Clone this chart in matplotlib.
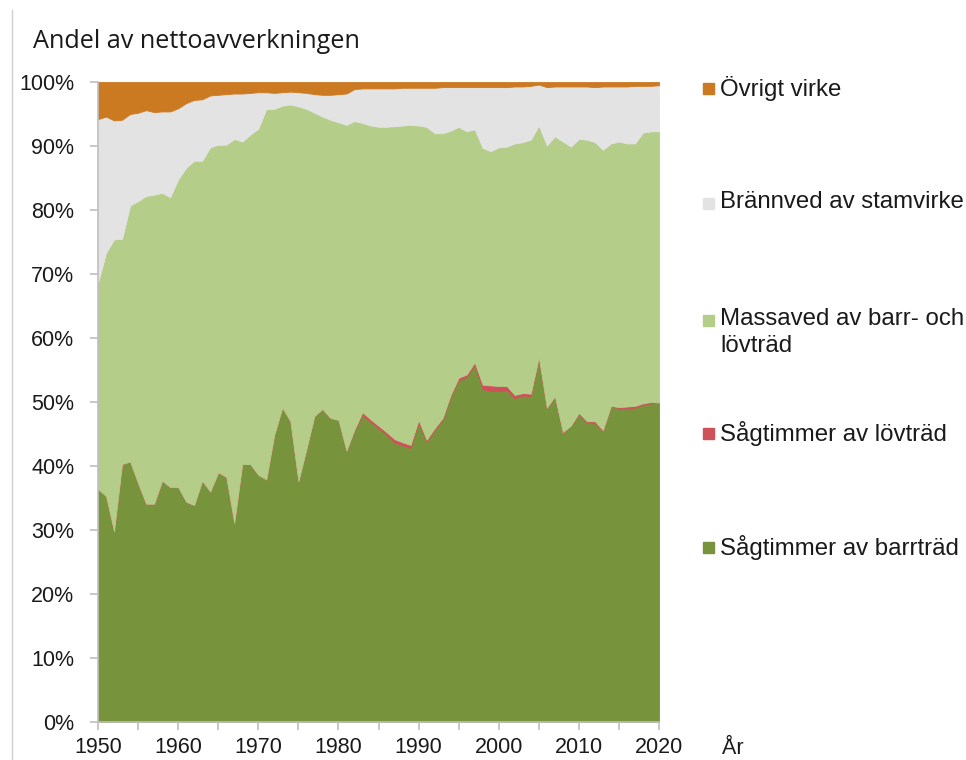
import numpy as np
import matplotlib.pyplot as plt
from matplotlib.patches import Rectangle
from matplotlib.lines import Line2D

years = np.arange(1950, 2021)

# andel i procent per år
sagtimmer_barr = [36.4, 35.3, 29.8, 40.3, 40.7, 37.3, 34.1, 34.1, 37.7, 36.7,
                  36.7, 34.4, 33.9, 37.7, 36.0, 39.0, 38.3, 31.1, 40.3, 40.3,
                  38.6, 37.9, 44.9, 49.1, 47.0, 37.6, 42.6, 47.8, 48.9, 47.5,
                  47.2, 42.4, 45.5, 48.0, 46.9, 45.9, 44.9, 43.7, 43.2, 42.8,
                  46.8, 43.8, 45.6, 47.2, 50.8, 53.4, 53.9, 55.8, 52.0, 51.7,
                  51.7, 51.8, 50.6, 51.0, 50.9, 56.8, 49.0, 50.8, 45.2, 46.2,
                  48.1, 46.8, 46.8, 45.5, 49.3, 49.0, 49.0, 49.1, 49.6, 49.8,
                  49.8]
sagtimmer_lov = [0.0] * 32 + [0.2, 0.4, 0.4, 0.4, 0.4, 0.5, 0.5, 0.5,
                              0.4, 0.3, 0.3, 0.3, 0.3, 0.4, 0.4, 0.4, 0.7, 0.9,
                              0.8, 0.7, 0.5, 0.4, 0.4, 0.2, 0.1, 0.1, 0.1, 0.1,
                              0.2, 0.2, 0.2, 0.1, 0.1, 0.2, 0.3, 0.3, 0.2, 0.2,
                              0.1]
massaved = [32.2, 38.0, 45.6, 35.2, 40.0, 44.1, 48.1, 48.3, 45.0, 45.3,
            48.1, 52.2, 53.8, 50.0, 53.8, 51.2, 51.9, 60.0, 50.4, 51.5,
            54.1, 57.9, 50.9, 47.2, 49.5, 58.6, 53.2, 47.4, 45.7, 46.6,
            46.5, 50.9, 48.2, 45.2, 45.9, 46.7, 47.7, 48.9, 49.5, 50.0,
            46.0, 48.9, 46.1, 44.5, 41.3, 39.2, 38.0, 36.4, 37.0, 36.6,
            37.3, 37.4, 39.3, 39.2, 39.7, 36.2, 41.0, 40.6, 45.4, 43.6,
            42.8, 44.0, 43.6, 43.8, 41.0, 41.5, 41.1, 41.0, 42.3, 42.3,
            42.4]
brannved = [25.6, 21.3, 18.6, 18.6, 14.3, 13.8, 13.4, 12.9, 12.7, 13.4,
            11.1, 10.1, 9.5, 9.6, 8.1, 7.8, 7.9, 7.1, 7.5, 6.5,
            5.7, 2.6, 2.5, 2.1, 2.0, 2.2, 2.5, 2.9, 3.4, 3.9,
            4.4, 4.9, 5.0, 5.4, 5.8, 6.0, 6.0, 5.9, 5.9, 5.8,
            5.9, 6.1, 7.1, 7.2, 6.8, 6.2, 6.9, 6.6, 9.5, 10.0,
            9.4, 9.3, 8.9, 8.7, 8.4, 6.4, 9.1, 7.8, 8.6, 9.4,
            8.2, 8.3, 8.6, 9.9, 8.9, 8.6, 8.9, 9.0, 7.3, 7.1,
            7.2]
ovrigt = [5.8, 5.4, 6.0, 5.9, 5.0, 4.8, 4.4, 4.7, 4.6, 4.6,
          4.1, 3.3, 2.8, 2.7, 2.1, 2.0, 1.9, 1.8, 1.8, 1.7,
          1.6, 1.6, 1.7, 1.6, 1.5, 1.6, 1.7, 1.9, 2.0, 2.0,
          1.9, 1.8, 1.1, 1.0, 1.0, 1.0, 1.0, 1.0, 0.9, 0.9,
          0.9, 0.9, 0.9, 0.8, 0.8, 0.8, 0.8, 0.8, 0.8, 0.8,
          0.8, 0.8, 0.7, 0.7, 0.6, 0.4, 0.8, 0.7, 0.7, 0.7,
          0.7, 0.7, 0.8, 0.7, 0.7, 0.7, 0.7, 0.6, 0.6, 0.6,
          0.5]

labels = ['Sågtimmer av barrträd', 'Sågtimmer av lövträd',
          'Massaved av barr- och\nlövträd', 'Brännved av stamvirke',
          'Övrigt virke']
colors = ['#77933C', '#D0505A', '#B4CD88', '#E3E3E3', '#CC7A22']

plt.rcParams['font.family'] = ['Liberation Sans', 'DejaVu Sans']
text_color = '#1A1A1A'
axis_color = '#BFBFBF'

fig = plt.figure(figsize=(9.66, 7.6), dpi=100)
ax = fig.add_axes([98 / 966, 1 - 722 / 760, 561 / 966, 640 / 760])

series = [sagtimmer_barr, sagtimmer_lov, massaved, brannved, ovrigt]
polys = ax.stackplot(years, series, colors=colors, labels=labels)
for p, c in zip(polys, colors):
    p.set_edgecolor(c)
    p.set_linewidth(0.6)

ax.set_xlim(1950, 2020)
ax.set_ylim(0, 100)
ax.set_xticks(np.arange(1950, 2021, 10))
ax.set_xticks(np.arange(1950, 2021, 5), minor=True)
ax.set_yticks(np.arange(0, 101, 10))
ax.set_yticklabels([f'{v}%' for v in range(0, 101, 10)])

for side in ['top', 'right']:
    ax.spines[side].set_visible(False)
for side in ['left', 'bottom']:
    ax.spines[side].set_color(axis_color)
    ax.spines[side].set_linewidth(1.2)
ax.tick_params(which='both', color=axis_color, length=6, width=1.2,
               labelsize=15.5, labelcolor=text_color)
ax.tick_params(axis='x', pad=5)
ax.tick_params(axis='y', pad=11)

# rubrik och axeltext
fig.text(33 / 966, 1 - 42 / 760, 'Andel av nettoavverkningen',
         family='Open Sans', fontsize=18.2, color=text_color, va='center')
fig.text(722 / 966, 1 - 748 / 760, 'År', fontsize=15.5, color=text_color,
         va='center')
fig.add_artist(Line2D([12 / 966, 12 / 966], [0, 1 - 10 / 760],
                      transform=fig.transFigure, color='#D0D0D0', lw=1))

# förklaring till höger, uppifrån och ned
legend_y = [88, 203, 320, 433, 547]
for lab, col, yc in zip(labels[::-1], colors[::-1], legend_y):
    fig.add_artist(Rectangle((703 / 966, 1 - (yc + 5.5) / 760), 11 / 966, 11 / 760,
                             transform=fig.transFigure, color=col))
    fig.text(720 / 966, 1 - (yc - 12) / 760, lab, fontsize=17.3,
             color=text_color, va='top', linespacing=1.3)

fig.savefig('out.png', dpi=100)
